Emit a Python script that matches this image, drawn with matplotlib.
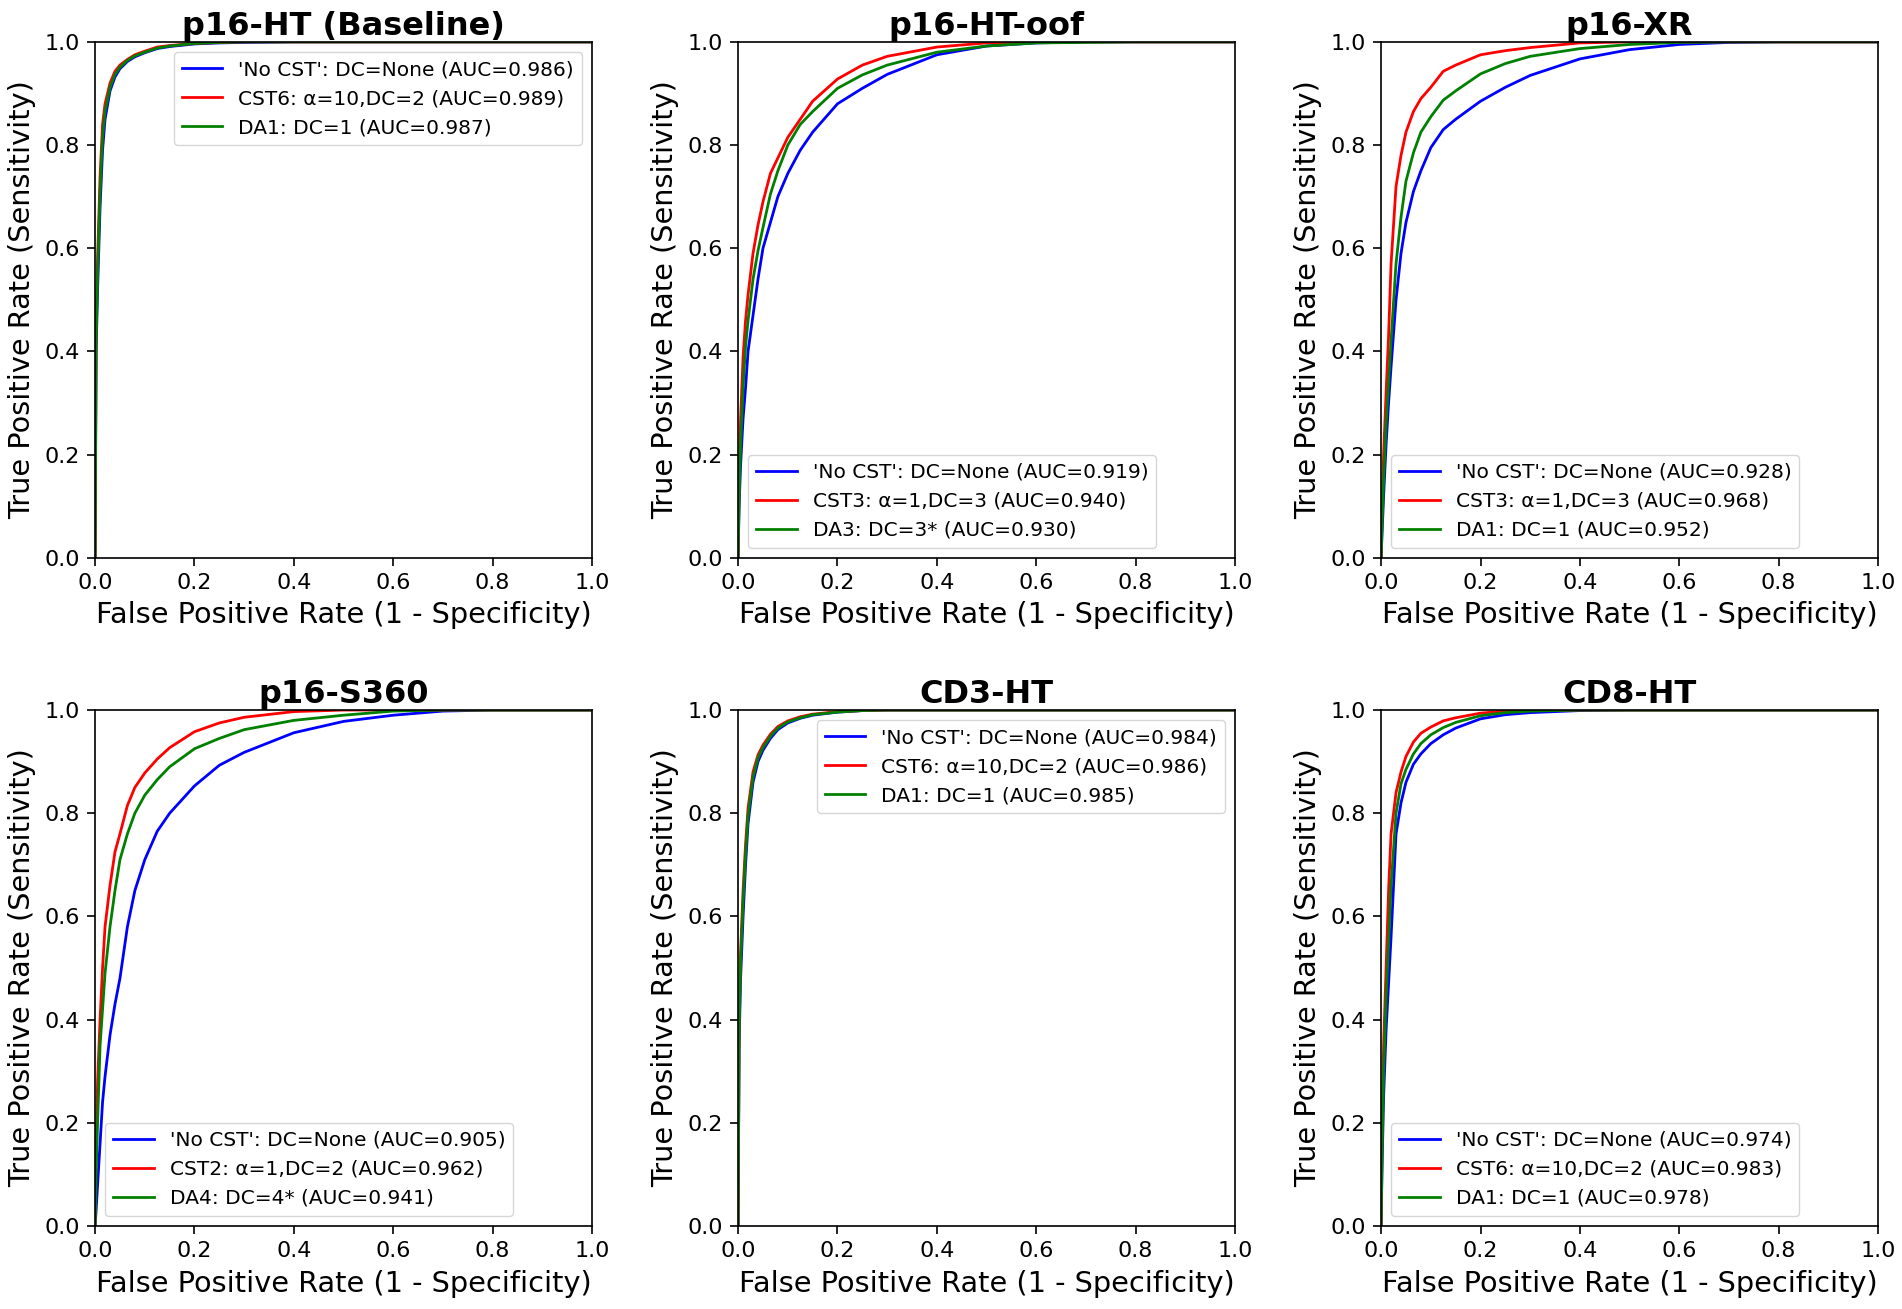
import matplotlib
matplotlib.use("Agg")
import matplotlib.pyplot as plt

# FPR grid shared by every curve
fpr = [0, 0.002, 0.005, 0.01, 0.015, 0.02, 0.03, 0.04, 0.05, 0.065, 0.08, 0.1,
       0.125, 0.15, 0.2, 0.25, 0.3, 0.4, 0.5, 0.6, 0.7, 0.8, 1.0]

# p16-HT (Baseline)
base_blue = [0, .40, .52, .68, .79, .85, .905, .932, .948, .962, .971, .979,
             .987, .991, .996, .998, .999, 1, 1, 1, 1, 1, 1]
base_red = [0, .45, .58, .74, .84, .88, .92, .943, .955, .966, .975, .982,
            .99, .993, .997, .999, 1, 1, 1, 1, 1, 1, 1]
base_green = [0, .42, .55, .71, .815, .865, .912, .937, .951, .964, .973, .98,
              .988, .992, .997, .999, 1, 1, 1, 1, 1, 1, 1]

# p16-HT-oof
oof_blue = [0, .10, .18, .27, .33, .40, .47, .54, .60, .65, .70, .745,
            .79, .825, .88, .91, .937, .975, .992, .998, 1, 1, 1]
oof_red = [0, .15, .27, .39, .46, .51, .59, .645, .69, .745, .775, .815,
           .85, .885, .928, .955, .972, .99, .998, 1, 1, 1, 1]
oof_green = [0, .12, .22, .33, .41, .46, .54, .595, .64, .705, .75, .80,
             .84, .865, .91, .936, .955, .98, .992, .998, .999, 1, 1]

# p16-XR
xr_blue = [0, .05, .12, .22, .30, .37, .50, .59, .65, .71, .75, .795,
           .83, .85, .885, .912, .935, .967, .985, .995, .999, 1, 1]
xr_red = [0, .10, .20, .32, .43, .57, .72, .78, .825, .865, .89, .912,
          .943, .955, .975, .983, .989, .998, 1, 1, 1, 1, 1]
xr_green = [0, .07, .15, .26, .34, .42, .57, .66, .73, .785, .825, .855,
            .887, .905, .938, .958, .972, .987, .995, .999, 1, 1, 1]

# p16-S360
s360_blue = [0, .03, .08, .16, .24, .29, .37, .43, .48, .58, .65, .71,
             .765, .80, .853, .893, .918, .956, .978, .99, .998, 1, 1]
s360_red = [0, .15, .28, .40, .50, .58, .66, .725, .76, .815, .85, .878,
            .905, .927, .958, .975, .986, .997, 1, 1, 1, 1, 1]
s360_green = [0, .10, .20, .35, .42, .49, .58, .65, .71, .76, .80, .835,
              .865, .89, .925, .945, .962, .98, .99, .998, 1, 1, 1]

# CD3-HT
cd3_blue = [0, .35, .48, .60, .70, .78, .86, .90, .922, .945, .962, .975,
            .984, .99, .996, .999, 1, 1, 1, 1, 1, 1, 1]
cd3_red = [0, .40, .53, .65, .74, .81, .88, .913, .932, .953, .968, .979,
           .987, .992, .997, .999, 1, 1, 1, 1, 1, 1, 1]
cd3_green = [0, .38, .51, .63, .72, .795, .87, .907, .927, .949, .965, .977,
             .985, .991, .996, .999, 1, 1, 1, 1, 1, 1, 1]

# CD8-HT
cd8_blue = [0, .12, .25, .38, .47, .56, .76, .82, .86, .895, .915, .935,
            .952, .965, .983, .991, .995, .999, 1, 1, 1, 1, 1]
cd8_red = [0, .20, .35, .50, .65, .76, .84, .88, .91, .938, .955, .967,
           .979, .985, .994, .998, .999, 1, 1, 1, 1, 1, 1]
cd8_green = [0, .15, .30, .44, .55, .66, .80, .857, .885, .915, .935, .952,
             .966, .976, .989, .995, .998, 1, 1, 1, 1, 1, 1]

titles = ["p16-HT (Baseline)", "p16-HT-oof", "p16-XR", "p16-S360", "CD3-HT", "CD8-HT"]
curves = [
    (base_blue, base_red, base_green),
    (oof_blue, oof_red, oof_green),
    (xr_blue, xr_red, xr_green),
    (s360_blue, s360_red, s360_green),
    (cd3_blue, cd3_red, cd3_green),
    (cd8_blue, cd8_red, cd8_green),
]
labels = [
    ("'No CST': DC=None (AUC=0.986)", "CST6: α=10,DC=2 (AUC=0.989)", "DA1: DC=1 (AUC=0.987)"),
    ("'No CST': DC=None (AUC=0.919)", "CST3: α=1,DC=3 (AUC=0.940)", "DA3: DC=3* (AUC=0.930)"),
    ("'No CST': DC=None (AUC=0.928)", "CST3: α=1,DC=3 (AUC=0.968)", "DA1: DC=1 (AUC=0.952)"),
    ("'No CST': DC=None (AUC=0.905)", "CST2: α=1,DC=2 (AUC=0.962)", "DA4: DC=4* (AUC=0.941)"),
    ("'No CST': DC=None (AUC=0.984)", "CST6: α=10,DC=2 (AUC=0.986)", "DA1: DC=1 (AUC=0.985)"),
    ("'No CST': DC=None (AUC=0.974)", "CST6: α=10,DC=2 (AUC=0.983)", "DA1: DC=1 (AUC=0.978)"),
]
legend_locs = ["upper right", "lower left", "lower left", "lower left", "upper right", "lower left"]
colors = ["blue", "red", "green"]

fig, axes = plt.subplots(2, 3, figsize=(19.02, 13.09), dpi=100)
fig.subplots_adjust(left=0.05, right=0.9874, top=0.968, bottom=0.0634,
                    wspace=0.294, hspace=0.295)

for ax, title, tprs, labs, loc in zip(axes.flat, titles, curves, labels, legend_locs):
    for tpr, lab, c in zip(tprs, labs, colors):
        ax.plot(fpr, tpr, color=c, lw=2, label=lab)
    ax.set_xlim(0, 1)
    ax.set_ylim(0, 1)
    ax.set_title(title, fontsize=23, fontweight="bold", pad=1.5)
    ax.set_xlabel("False Positive Rate (1 - Specificity)", fontsize=20.7, labelpad=6)
    ax.set_ylabel("True Positive Rate (Sensitivity)", fontsize=20.7, labelpad=6)
    ax.tick_params(labelsize=16, length=6, width=1.2, pad=5)
    for s in ax.spines.values():
        s.set_linewidth(1.2)
    ax.legend(loc=loc, fontsize=14.5)

fig.savefig("out.png", dpi=100)
